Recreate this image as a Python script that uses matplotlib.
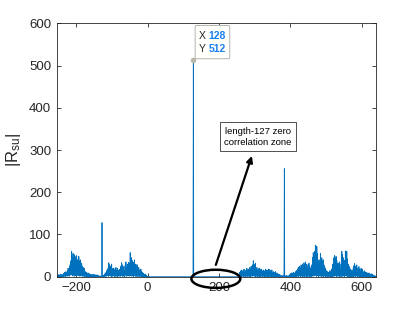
import numpy as np
import matplotlib
matplotlib.use("Agg")
import matplotlib.pyplot as plt
from matplotlib.patches import Ellipse, FancyBboxPatch

plt.rcParams["font.family"] = ["Liberation Sans", "DejaVu Sans"]
plt.rcParams["mathtext.default"] = "regular"

# |R_su| for lags -255..-1
left_vals = [
    2, 0, 4, 0, 3, 0, 5, 1, 3, 0, 6, 1, 4, 0, 5, 2, 3, 0, 6, 1,
    8, 1, 10, 2, 6, 0, 12, 3, 9, 1, 15, 2, 20, 4, 14, 1, 25, 3, 30, 5,
    38, 4, 60, 8, 45, 2, 55, 6, 30, 1, 52, 9, 22, 3, 48, 5, 50, 2, 40, 6,
    28, 3, 48, 7, 35, 1, 40, 4, 20, 2, 32, 6, 25, 1, 22, 3, 18, 0, 20, 4,
    12, 1, 8, 0, 10, 2, 6, 0, 9, 1, 5, 0, 7, 2, 4, 0, 6, 1, 3, 0,
    5, 0, 3, 1, 6, 0, 4, 1, 3, 0, 5, 1, 2, 0, 4, 1, 3, 0, 2, 0,
    1, 0, 2, 0, 1, 0, 1, 128, 1, 0, 2, 0, 4, 1, 6, 0, 8, 2, 10, 1,
    14, 2, 16, 3, 20, 1, 33, 5, 28, 2, 25, 4, 12, 0, 30, 3, 19, 1, 16, 2,
    20, 3, 15, 0, 18, 2, 22, 1, 14, 4, 20, 0, 16, 2, 12, 1, 18, 3, 14, 1,
    25, 2, 33, 4, 28, 1, 18, 3, 24, 0, 15, 2, 28, 5, 35, 1, 22, 3, 30, 2,
    25, 3, 34, 1, 30, 6, 57, 2, 40, 4, 45, 1, 38, 3, 35, 0, 30, 4, 40, 2,
    28, 1, 30, 3, 24, 0, 28, 2, 20, 1, 22, 3, 16, 0, 14, 2, 18, 0, 12, 1,
    10, 0, 8, 1, 7, 0, 5, 1, 6, 0, 4, 0, 3, 0, 1,
]

# zero correlation zone around the main peak (lags 0..255)
peak_lag = 128
peak_val = 512
zcz_start, zcz_end = 0, 255

# |R_su| for lags 256..639
right_vals = [
    3, 0, 10, 1, 14, 2, 12, 0, 16, 1, 11, 3, 13, 0, 18, 2, 10, 0, 14, 1,
    15, 2, 20, 0, 14, 3, 18, 1, 12, 0, 22, 2, 16, 0, 25, 3, 18, 1, 28, 2,
    38, 4, 30, 1, 26, 3, 32, 0, 18, 2, 22, 1, 14, 0, 19, 2, 16, 0, 20, 1,
    14, 0, 18, 2, 15, 1, 12, 0, 16, 3, 11, 0, 14, 1, 18, 0, 12, 2, 16, 0,
    13, 1, 18, 0, 15, 2, 17, 0, 14, 1, 11, 0, 16, 2, 10, 0, 12, 1, 8, 0,
    10, 0, 12, 1, 6, 0, 9, 0, 8, 1, 4, 0, 6, 0, 5, 1, 4, 0, 3, 0,
    1, 0, 2, 0, 4, 0, 1, 256, 0, 2, 0, 1, 0, 3, 0, 1, 2, 0, 1, 0,
    3, 0, 5, 1, 6, 0, 8, 1, 9, 0, 7, 2, 10, 0, 8, 1, 9, 0, 12, 1,
    10, 0, 15, 2, 18, 1, 22, 0, 16, 3, 25, 1, 20, 0, 28, 2, 24, 1, 30, 0,
    26, 2, 33, 0, 28, 3, 35, 1, 24, 0, 30, 2, 22, 0, 27, 3, 32, 1, 25, 0,
    18, 2, 22, 0, 28, 3, 45, 1, 57, 4, 52, 2, 60, 5, 75, 3, 62, 1, 72, 4,
    55, 2, 25, 0, 40, 3, 34, 1, 55, 4, 38, 0, 45, 2, 35, 1, 40, 0, 28, 2,
    24, 1, 20, 0, 15, 2, 10, 0, 12, 1, 9, 0, 11, 2, 14, 0, 10, 1, 15, 0,
    18, 2, 30, 0, 28, 3, 45, 1, 50, 4, 42, 2, 48, 0, 38, 3, 30, 1, 32, 2,
    28, 0, 35, 2, 15, 1, 30, 0, 60, 3, 52, 1, 45, 4, 35, 0, 38, 2, 61, 3,
    55, 2, 60, 0, 42, 3, 30, 1, 25, 0, 22, 2, 18, 0, 14, 1, 16, 0, 12, 1,
    20, 0, 26, 2, 31, 1, 25, 0, 22, 3, 28, 1, 20, 0, 16, 2, 24, 0, 18, 1,
    15, 0, 20, 1, 14, 0, 18, 2, 12, 0, 10, 1, 14, 0, 11, 1, 9, 0, 10, 0,
    7, 0, 6, 1, 9, 0, 8, 0, 6, 1, 4, 0, 7, 0, 5, 1, 3, 0, 4, 0,
    1, 0, 2, 0,
]

x_ticks = [-200, 0, 200, 400, 600]
y_ticks = [0, 100, 200, 300, 400, 500, 600]

zone = np.zeros(zcz_end - zcz_start + 1)
zone[peak_lag - zcz_start] = peak_val
vals = np.concatenate([left_vals, zone, right_vals])
lags = np.arange(-len(left_vals), -len(left_vals) + len(vals))

fig = plt.figure(figsize=(4.15, 3.12), dpi=100)
ax = fig.add_axes([0.1366, 0.1131, 0.7687, 0.8122])

blue = "#0072BD"
ax.plot(lags, vals, color=blue, lw=0.6)

ax.set_xlim(-255, 639)
ax.set_ylim(0, 600)
ax.set_xticks(x_ticks)
ax.set_yticks(y_ticks)

axc = "#262626"
for s in ax.spines.values():
    s.set_color(axc)
    s.set_linewidth(0.6)
ax.tick_params(direction="in", top=True, right=True, length=3, width=0.6,
               colors=axc, labelsize=9.5, pad=4)
for lab in ax.get_xticklabels() + ax.get_yticklabels():
    lab.set_color(axc)

ax.set_ylabel("|R$_{su}$|", fontsize=12, color=axc, labelpad=4)

# data tip at the main peak
ax.plot([peak_lag], [peak_val], "o", ms=3, color="#B8B8A8", zorder=5)
tip = FancyBboxPatch((133, 516), 97, 79, boxstyle="round,pad=0,rounding_size=4",
                     fc="#FFFFFC", ec="#A8A8A8", lw=0.6, clip_on=False, zorder=6)
ax.add_patch(tip)
tip_blue = "#1A7FF0"
ax.text(143, 569, "X", fontsize=7.5, color=axc, va="center", ha="left", zorder=7)
ax.text(170, 569, str(peak_lag), fontsize=7.5, color=tip_blue, fontweight="bold",
        va="center", ha="left", zorder=7)
ax.text(143, 538, "Y", fontsize=7.5, color=axc, va="center", ha="left", zorder=7)
ax.text(170, 538, str(peak_val), fontsize=7.5, color=tip_blue, fontweight="bold",
        va="center", ha="left", zorder=7)

# zero correlation zone annotation
ax.add_patch(Ellipse((191, -5), 137, 43, fill=False, ec="k", lw=1.8,
                     clip_on=False, zorder=8))
ax.annotate("", xy=(292, 286), xytext=(191, 28),
            arrowprops=dict(arrowstyle="-|>", lw=1.6, color="k",
                            mutation_scale=9, shrinkA=0, shrinkB=0))
ax.text(309, 331, "length-127 zero\ncorrelation zone", fontsize=6.8,
        ha="center", va="center", linespacing=1.35,
        bbox=dict(boxstyle="square,pad=0.45", fc="white", ec="#333333", lw=0.6))

fig.savefig("out.png", dpi=100)
